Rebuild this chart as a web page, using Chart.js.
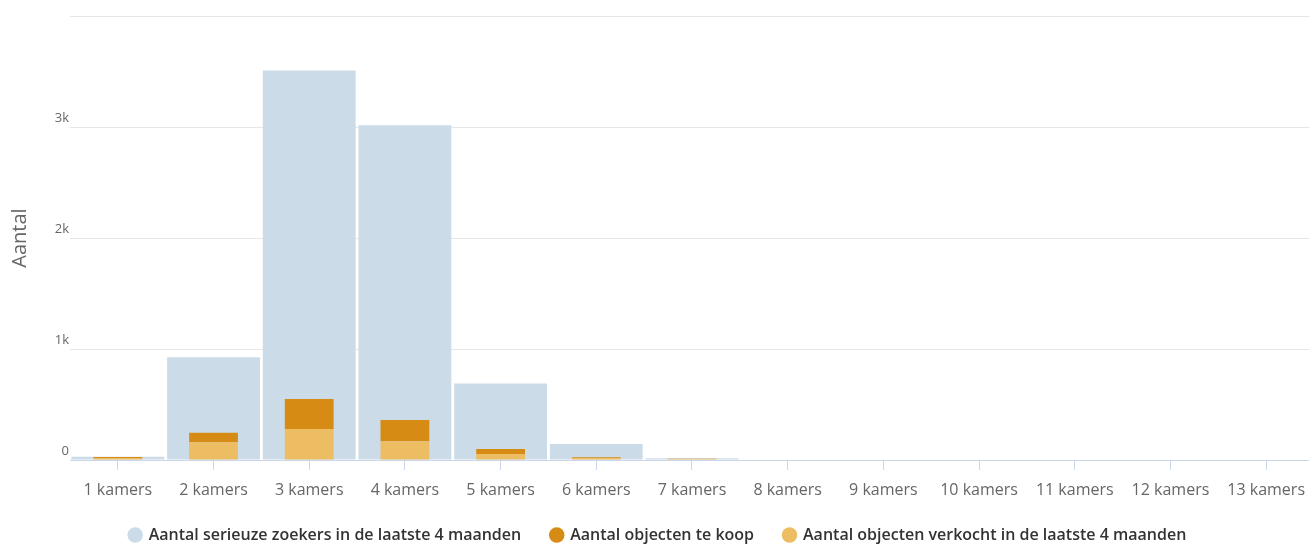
<!DOCTYPE html>
<html>
<head>
<meta charset="utf-8">
<script src="https://cdn.jsdelivr.net/npm/chart.js@4/dist/chart.umd.min.js"></script>
<style>
  html, body { margin: 0; padding: 0; background: #fff; overflow: hidden; }
  #wrap { width: 1316px; height: 544px; }
</style>
</head>
<body>
<div id="wrap"><canvas id="kamersChart"></canvas></div>
<script>
// Categories and values
const categories = ['1 kamers', '2 kamers', '3 kamers', '4 kamers', '5 kamers', '6 kamers', '7 kamers',
  '8 kamers', '9 kamers', '10 kamers', '11 kamers', '12 kamers', '13 kamers'];
const zoekers = [30, 925, 3510, 3015, 690, 145, 15, 0, 0, 0, 0, 0, 0];
const teKoop = [10, 85, 270, 190, 45, 7, 4, 0, 0, 0, 0, 0, 0];
const verkocht = [18, 160, 280, 170, 55, 18, 8, 0, 0, 0, 0, 0, 0];
const yTicks = [0, 1000, 2000, 3000, 4000];

const fontFamily = '"Open Sans", sans-serif';

// shrink the legend box so it sits lower, like the original
const legendFit = {
  id: 'legendFit',
  beforeInit(chart) {
    const origFit = chart.legend.fit;
    chart.legend.fit = function fit() {
      origFit.bind(chart.legend)();
      this.height -= 9;
    };
  },
};

new Chart(document.getElementById('kamersChart'), {
  type: 'bar',
  data: {
    labels: categories,
    datasets: [
      {
        label: 'Aantal serieuze zoekers in de laatste 4 maanden',
        data: zoekers,
        backgroundColor: '#cbdbe7',
        stack: 'zoekers',
        grouped: false,
        order: 3,
        barPercentage: 0.97,
        categoryPercentage: 1,
      },
      {
        label: 'Aantal objecten te koop',
        data: teKoop,
        backgroundColor: '#d68b14',
        stack: 'objecten',
        grouped: false,
        order: 2,
        barPercentage: 0.51,
        categoryPercentage: 1,
      },
      {
        label: 'Aantal objecten verkocht in de laatste 4 maanden',
        data: verkocht,
        backgroundColor: '#edbd64',
        stack: 'objecten',
        grouped: false,
        order: 1,
        barPercentage: 0.51,
        categoryPercentage: 1,
      },
    ],
  },
  plugins: [legendFit],
  options: {
    responsive: true,
    maintainAspectRatio: false,
    animation: false,
    layout: { padding: { top: 16, right: 0, bottom: 0, left: 0 } },
    plugins: {
      tooltip: { enabled: false },
      legend: {
        position: 'bottom',
        labels: {
          usePointStyle: true,
          pointStyle: 'circle',
          boxWidth: 11,
          boxHeight: 11,
          padding: 30,
          color: '#333333',
          font: { family: fontFamily, size: 16, weight: '600' },
          sort: (a, b) => a.datasetIndex - b.datasetIndex,
        },
      },
    },
    scales: {
      x: {
        offset: true,
        afterFit: (scale) => { scale.height = 37; },
        grid: {
          offset: false,
          drawOnChartArea: false,
          drawTicks: true,
          tickLength: 10,
          color: '#ccd6eb',
        },
        border: { color: '#ccd6eb' },
        ticks: {
          color: '#666666',
          padding: 11,
          maxRotation: 0,
          autoSkip: false,
          font: { family: fontFamily, size: 16 },
        },
      },
      y: {
        stacked: true,
        min: 0,
        max: 4000,
        afterBuildTicks: (scale) => { scale.ticks = yTicks.map(v => ({ value: v })); },
        afterFit: (scale) => { scale.width = 70; },
        grid: { color: '#e6e6e6', drawTicks: false },
        border: { display: false },
        ticks: {
          color: '#666666',
          padding: 1,
          labelOffset: -9,
          font: { family: fontFamily, size: 13 },
          callback: (v) => (v === 4000 ? '' : v === 0 ? '0' : (v / 1000) + 'k'),
        },
        title: {
          display: true,
          text: 'Aantal',
          color: '#666666',
          padding: { top: 8, bottom: 0 },
          font: { family: fontFamily, size: 20 },
        },
      },
    },
  },
});
</script>
</body>
</html>
